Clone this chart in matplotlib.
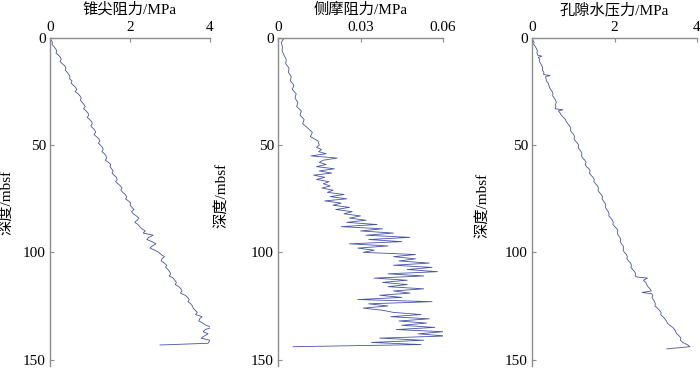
import matplotlib
matplotlib.use('Agg')
import matplotlib.pyplot as plt

plt.rcParams['font.family'] = ['Liberation Serif', 'Noto Sans CJK SC']
plt.rcParams['font.size'] = 11

# 锥尖阻力 (MPa) vs 深度 (mbsf)
depth_qc = [0, 1, 2, 3, 4, 5, 6, 7, 8, 9, 10, 11, 12, 13, 14, 15, 16, 17, 18, 19,
            20, 21, 22, 23, 24, 25, 26, 27, 28, 29, 30, 31, 32, 33, 34, 35, 36, 37, 38, 39,
            40, 41, 42, 43, 44, 45, 46, 47, 48, 49, 50, 51, 52, 53, 54, 55, 56, 57, 58, 59,
            60, 61, 62, 63, 64, 65, 66, 67, 68, 69, 70, 71, 72, 73, 74, 75, 76, 77, 78, 79,
            80, 81, 82, 83, 84, 85, 86, 87, 88, 89, 90, 91, 92, 93, 94, 95, 96, 97, 98, 99,
            100, 101, 102, 103, 104, 105, 106, 107, 108, 109, 110, 111, 112, 113, 114, 115, 116, 117, 118, 119,
            120, 121, 122, 123, 124, 125, 126, 127, 128, 129, 130, 131, 132, 133, 134, 135, 136, 137, 138, 139,
            140, 141, 142.4, 143.2]
qc = [0.00, 0.03, 0.06, 0.05, 0.10, 0.14, 0.17, 0.15, 0.21, 0.26, 0.28, 0.25, 0.31, 0.37, 0.40, 0.38, 0.43, 0.47, 0.50, 0.49,
      0.55, 0.53, 0.58, 0.64, 0.67, 0.63, 0.70, 0.75, 0.78, 0.76, 0.80, 0.85, 0.88, 0.84, 0.90, 0.95, 0.97, 0.93, 0.99, 1.04,
      1.06, 1.02, 1.07, 1.12, 1.14, 1.10, 1.16, 1.22, 1.25, 1.21, 1.26, 1.31, 1.33, 1.30, 1.36, 1.40, 1.42, 1.38, 1.46, 1.52,
      1.50, 1.54, 1.58, 1.55, 1.60, 1.66, 1.68, 1.64, 1.70, 1.76, 1.80, 1.77, 1.82, 1.88, 1.92, 1.89, 1.96, 2.02, 2.00, 2.05,
      2.10, 2.04, 2.08, 2.16, 2.22, 2.18, 2.12, 2.20, 2.24, 2.30, 2.38, 2.33, 2.58, 2.47, 2.42, 2.55, 2.65, 2.56, 2.50, 2.62,
      2.72, 2.78, 2.86, 2.80, 2.78, 2.86, 2.92, 2.89, 2.95, 2.99, 3.02, 2.98, 3.08, 3.12, 3.16, 3.13, 3.22, 3.27, 3.30, 3.26,
      3.38, 3.44, 3.48, 3.45, 3.52, 3.56, 3.58, 3.63, 3.68, 3.64, 3.80, 3.74, 3.72, 3.82, 3.90, 4.05, 3.88, 3.83, 3.95, 3.86,
      3.78, 4.00, 3.95, 2.75]

# 侧摩阻力 (MPa)
depth_fs = [0, 0.5, 1, 2, 4, 6, 8, 10, 12, 14, 16, 18, 20, 22, 24, 26, 28, 30, 32, 34,
            36, 38, 40, 42, 44, 46, 48, 50, 51, 52, 53, 54, 55, 56, 57, 58, 59, 60, 61, 62,
            63, 64, 65, 66, 67, 68, 69, 70, 71, 72, 73, 74, 75, 76, 77, 78, 79, 80, 81, 82,
            83, 84, 85, 86, 87, 88, 89, 90, 91, 92, 93, 94, 95, 96, 97, 98, 99, 100, 101, 102,
            103, 104, 105, 106, 107, 108, 109, 110, 111, 112, 113, 114, 115, 116, 117, 118, 119, 120, 121, 122,
            123, 124, 125, 126, 127, 128, 129, 130, 131, 132, 133, 134, 135, 136, 137, 138, 139, 140, 141, 142,
            143, 144]
fs = [0.0, 0.0020, 0.0018, 0.0012, 0.0016, 0.0015, 0.0022, 0.0030, 0.0028, 0.0040, 0.0038, 0.0048, 0.0045, 0.0058, 0.0052, 0.0066, 0.0062, 0.0072, 0.0068, 0.0085,
      0.0080, 0.0095, 0.0090, 0.0108, 0.0125, 0.0118, 0.0145, 0.0150, 0.0140, 0.0158, 0.0148, 0.0175, 0.0120, 0.0215, 0.0165, 0.0150, 0.0175, 0.0140, 0.0205, 0.0150,
      0.0195, 0.0130, 0.0170, 0.0140, 0.0185, 0.0165, 0.0190, 0.0160, 0.0200, 0.0180, 0.0240, 0.0190, 0.0250, 0.0170, 0.0230, 0.0200, 0.0260, 0.0210, 0.0270, 0.0240,
      0.0300, 0.0260, 0.0320, 0.0250, 0.0360, 0.0230, 0.0380, 0.0300, 0.0420, 0.0320, 0.0480, 0.0330, 0.0450, 0.0260, 0.0400, 0.0290, 0.0350, 0.0310, 0.0500, 0.0420,
      0.0500, 0.0440, 0.0550, 0.0420, 0.0560, 0.0470, 0.0580, 0.0400, 0.0530, 0.0350, 0.0470, 0.0380, 0.0470, 0.0400, 0.0530, 0.0420, 0.0480, 0.0370, 0.0450, 0.0290,
      0.0560, 0.0330, 0.0400, 0.0310, 0.0380, 0.0420, 0.0520, 0.0410, 0.0550, 0.0440, 0.0540, 0.0450, 0.0570, 0.0430, 0.0600, 0.0510, 0.0610, 0.0370, 0.0530, 0.0340,
      0.0520, 0.0055]

# 孔隙水压力 (MPa)
depth_u = [0, 1, 2, 3, 4, 5, 6, 7, 8, 8.5, 9, 10, 11, 12, 13, 14, 15, 16, 17, 17.5,
           18, 19, 20, 21, 22, 23, 24, 25, 26, 27, 28, 29, 30, 31, 32, 33, 33.5, 34, 35, 36,
           37, 38, 39, 40, 41, 42, 43, 44, 45, 46, 47, 48, 49, 50, 51, 52, 53, 54, 55, 56,
           57, 58, 59, 60, 61, 62, 63, 64, 65, 66, 67, 68, 69, 70, 71, 72, 73, 74, 75, 76,
           77, 78, 79, 80, 81, 82, 83, 84, 85, 86, 87, 88, 89, 90, 91, 92, 93, 94, 95, 96,
           97, 98, 99, 100, 101, 102, 103, 104, 105, 106, 107, 108, 109, 110, 111, 111.5, 112, 113, 114, 115,
           116, 117, 118, 118.7, 119.3, 120, 121, 122, 123, 124, 125, 126, 127, 128, 129, 130, 131, 132, 133, 134,
           135, 136, 137, 138, 139, 140, 141, 142, 143, 144, 145]
u = [0.00, 0.02, 0.05, 0.04, 0.08, 0.11, 0.13, 0.12, 0.14, 0.24, 0.15, 0.19, 0.18, 0.21, 0.24, 0.26, 0.25, 0.29, 0.28, 0.44,
     0.33, 0.34, 0.35, 0.39, 0.41, 0.42, 0.45, 0.49, 0.51, 0.50, 0.54, 0.57, 0.59, 0.57, 0.58, 0.56, 0.75, 0.64, 0.68, 0.71,
     0.76, 0.81, 0.83, 0.87, 0.91, 0.94, 0.93, 0.96, 1.01, 1.03, 1.02, 1.05, 1.10, 1.13, 1.12, 1.15, 1.19, 1.21, 1.20, 1.23,
     1.28, 1.31, 1.29, 1.32, 1.38, 1.41, 1.39, 1.43, 1.48, 1.51, 1.50, 1.54, 1.59, 1.61, 1.60, 1.63, 1.68, 1.71, 1.70, 1.73,
     1.77, 1.79, 1.78, 1.81, 1.85, 1.87, 1.86, 1.91, 1.95, 1.97, 1.96, 2.01, 2.06, 2.08, 2.07, 2.09, 2.13, 2.15, 2.14, 2.17,
     2.21, 2.22, 2.21, 2.24, 2.29, 2.31, 2.30, 2.34, 2.39, 2.41, 2.40, 2.44, 2.49, 2.51, 2.50, 2.55, 2.80, 2.70, 2.76, 2.78,
     2.81, 2.86, 2.89, 2.67, 2.90, 2.93, 2.91, 2.94, 2.97, 2.99, 2.98, 3.04, 3.09, 3.13, 3.12, 3.17, 3.22, 3.26, 3.28, 3.34,
     3.41, 3.46, 3.48, 3.51, 3.57, 3.61, 3.60, 3.65, 3.76, 3.83, 3.27]

titles = ['锥尖阻力/MPa', '侧摩阻力/MPa', '孔隙水压力/MPa']
xmaxes = [4, 0.06, 4]
xticks = [[0, 2, 4], [0, 0.03, 0.06], [0, 2, 4]]
xticklabels = [['0', '2', '4'], ['0', '0.03', '0.06'], ['0', '2', '4']]
series = [(qc, depth_qc), (fs, depth_fs), (u, depth_u)]

lefts = [50 / 700, 278 / 700, 532 / 700]
widths = [160 / 700, 165 / 700, 165 / 700]
ylabel_x = [-0.23, -0.30, -0.26]
ylabel_y = [0.50, 0.52, 0.49]
bottom = 1 - 366 / 374
height = (366 - 38) / 374

line_color = '#4654a6'
axis_color = '#8c8c8c'

fig = plt.figure(figsize=(7, 3.74), dpi=100)

for i in range(3):
    ax = fig.add_axes([lefts[i], bottom, widths[i], height])
    xv, dv = series[i]
    ax.plot(xv, dv, color=line_color, linewidth=0.6)
    ax.set_xlim(0, xmaxes[i])
    ax.set_ylim(153, 0)
    ax.xaxis.tick_top()
    ax.set_xticks(xticks[i])
    ax.set_xticklabels(xticklabels[i])
    ax.set_yticks([0, 50, 100, 150])
    for s in ['right', 'bottom']:
        ax.spines[s].set_visible(False)
    for s in ['left', 'top']:
        ax.spines[s].set_color(axis_color)
        ax.spines[s].set_linewidth(1.0)
    ax.tick_params(direction='in', length=3, color=axis_color, labelsize=11, pad=3)
    ax.set_title(titles[i], fontsize=11, pad=5)
    ax.set_ylabel('深度/mbsf', fontsize=11)
    ax.yaxis.set_label_coords(ylabel_x[i], ylabel_y[i])

fig.savefig('out.png', dpi=100)
